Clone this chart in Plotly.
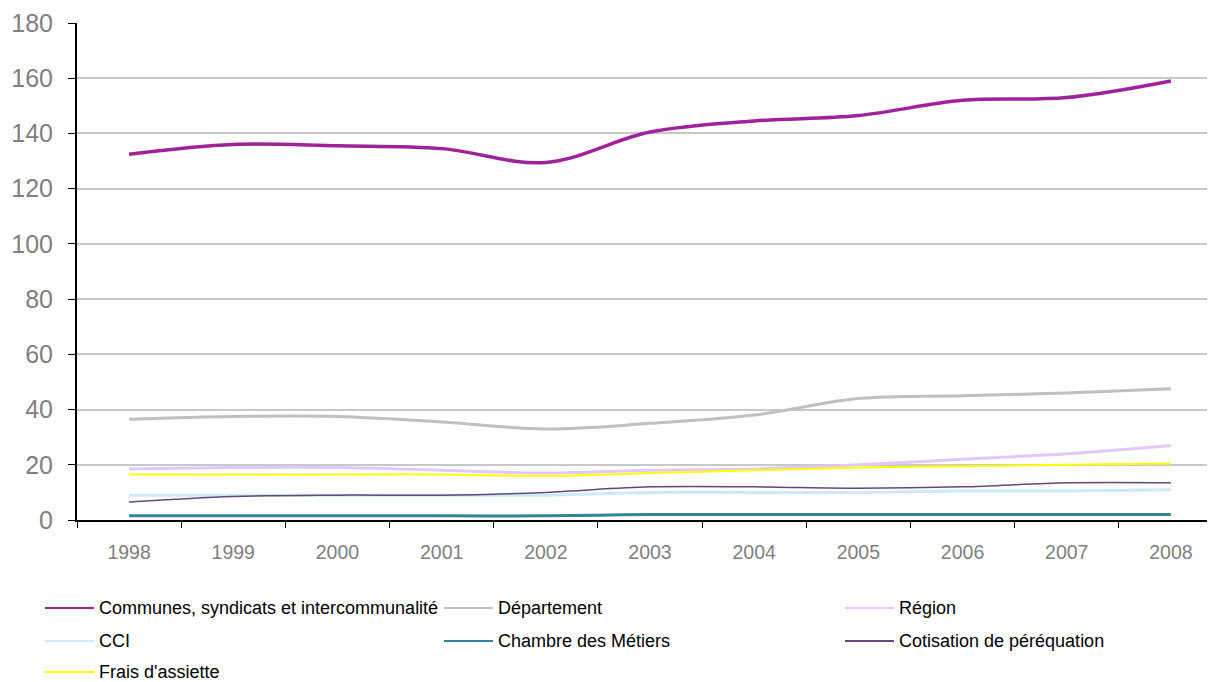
import plotly.graph_objects as go

years = ["1998", "1999", "2000", "2001", "2002", "2003", "2004", "2005", "2006", "2007", "2008"]

communes = [132.5, 136, 135.5, 134.5, 129.5, 140.5, 144.5, 146.5, 152, 153, 159]
departement = [36.5, 37.5, 37.5, 35.5, 33, 35, 38, 44, 45, 46, 47.5]
region = [18.5, 19, 19, 18, 17, 18, 18.5, 20, 22, 24, 27]
cci = [9, 9, 9, 9, 9, 10, 10, 10, 10.5, 10.5, 11]
chambre = [1.5, 1.5, 1.5, 1.5, 1.5, 2, 2, 2, 2, 2, 2]
cotisation = [6.5, 8.5, 9, 9, 10, 12, 12, 11.5, 12, 13.5, 13.5]
frais = [16.5, 16.5, 16.5, 16.5, 16, 17, 18, 19, 19.5, 20, 20.5]

# name, values, colour, width
series = [
    ("Communes, syndicats et intercommunalité", communes, "#A0229A", 3.5),
    ("Département", departement, "#C0C0C0", 3),
    ("Région", region, "#E2C8FA", 3),
    ("CCI", cci, "#CDE9FA", 3),
    ("Chambre des Métiers", chambre, "#31849B", 3),
    ("Cotisation de péréquation", cotisation, "#604A7B", 1.5),
    ("Frais d'assiette", frais, "#FFFF00", 2),
]

# page body has an 8px margin, so the figure sits 8px in from the window edge
OFF = 8
W, H = 1215, 682
L, T = 77 - OFF, 23 - OFF
ph = 520 - 23
R, B = 0, H - T - ph
pw = W - L - R


def px(p):  # window pixel -> paper x
    return (p - OFF - L) / pw


def py(p):  # window pixel -> paper y
    return (T + ph - (p - OFF)) / ph


fig = go.Figure()
for name, vals, col, w in series:
    fig.add_trace(go.Scatter(x=years, y=vals, name=name, mode="lines",
                             line=dict(color=col, width=w, shape="spline", smoothing=1),
                             showlegend=False))

# hand-drawn legend, 3 columns like the original
col_x = [45, 444, 845]
row_y = [608, 641, 672]
for i, (name, vals, col, w) in enumerate(series):
    cx = col_x[i % 3]
    ry = row_y[i // 3]
    fig.add_shape(type="line", xref="paper", yref="paper",
                  x0=px(cx), x1=px(cx + 49), y0=py(ry), y1=py(ry),
                  line=dict(color=col, width=2))
    fig.add_annotation(text=name, xref="paper", yref="paper",
                       x=px(cx + 52), y=py(ry), xanchor="left", yanchor="middle",
                       showarrow=False,
                       font=dict(family="Liberation Sans, Arial", size=18, color="#000000"))

fig.update_layout(
    width=W, height=H,
    margin=dict(l=L, r=R, t=T, b=B),
    plot_bgcolor="white", paper_bgcolor="white",
    font=dict(family="Liberation Sans, Arial"),
    xaxis=dict(type="category", range=[-0.5, 10.5], tickson="boundaries",
               ticks="outside", ticklen=6, tickcolor="black",
               showline=True, linecolor="black", linewidth=2, showgrid=False,
               ticklabelstandoff=14, automargin=False,
               tickfont=dict(size=19.5, color="#808080")),
    yaxis=dict(range=[0, 180], dtick=20, ticks="outside", ticklen=7, tickcolor="black",
               showline=True, linecolor="black", linewidth=2,
               gridcolor="#C8C8C8", gridwidth=1.5, zeroline=False,
               ticklabelstandoff=10, automargin=False,
               tickfont=dict(size=25, color="#808080")),
)

fig.write_html("out.html")
